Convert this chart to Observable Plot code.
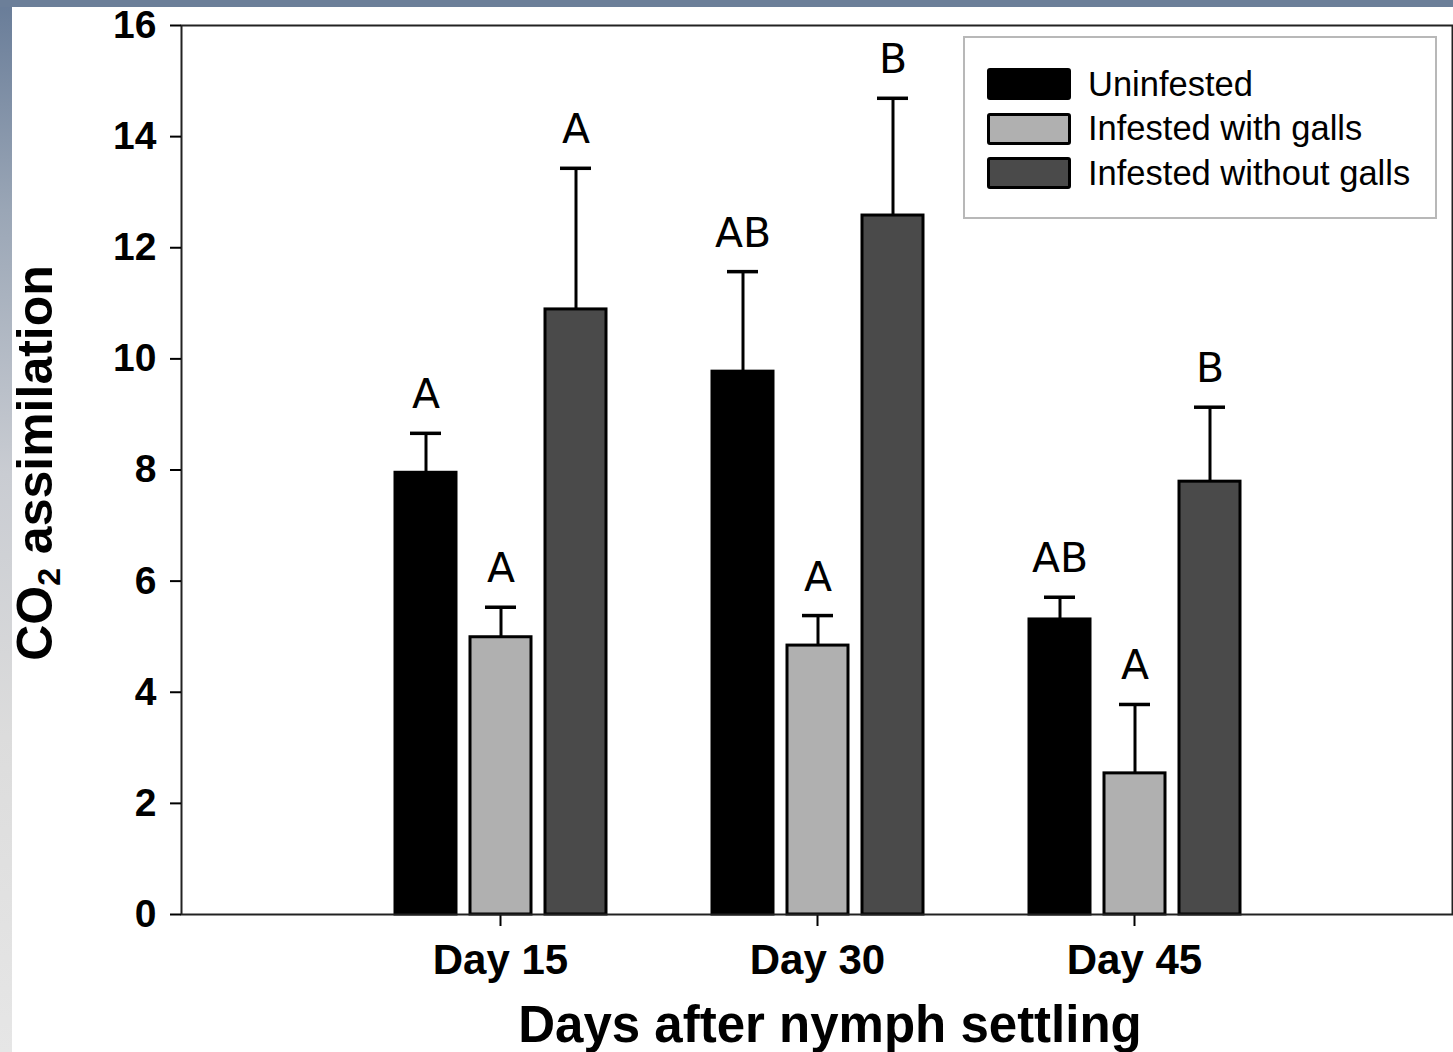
<!DOCTYPE html>
<html><head><meta charset="utf-8">
<script src="https://cdn.jsdelivr.net/npm/d3@7"></script>
<script src="https://cdn.jsdelivr.net/npm/@observablehq/plot@0.6"></script>
<style>
html,body{margin:0;padding:0;}
body{width:1453px;height:1052px;position:relative;overflow:hidden;background:linear-gradient(to bottom,#687c98 0%,#9aa6b6 20%,#c9ccd2 45%,#dcdcdc 70%,#e6e6e6 100%);}
#topstrip{position:absolute;left:0;top:0;width:1453px;height:7px;background:#6c7f99;}
#paper{position:absolute;left:12px;top:7px;width:1441px;height:1045px;background:#fff;}
#chart{position:absolute;left:0;top:0;width:1453px;height:1052px;}
#chart svg{position:absolute;left:0;top:0;}
#ylab{position:absolute;left:35px;top:463px;transform:translate(-50%,-50%) rotate(-90deg);font:bold 50px "Liberation Sans",Arial,sans-serif;white-space:nowrap;color:#000;}
#ylab sub{font-size:32px;vertical-align:-8px;line-height:0;}
#xlab{position:absolute;left:830px;top:1000px;transform:translateX(-50%);font:bold 51px "Liberation Sans",Arial,sans-serif;white-space:nowrap;color:#000;line-height:50px;}
#legend{position:absolute;left:963px;top:36px;width:470px;height:179px;border:2px solid #b8b8b8;background:#fff;font:34.5px "Liberation Sans",Arial,sans-serif;color:#000;}
.row{position:absolute;left:22px;height:30px;display:flex;align-items:center;}
.sw{width:78px;height:26px;border:3px solid #000;border-radius:3px;margin-right:17px;}
.lt{white-space:nowrap;}
</style>
</head><body>
<div id="topstrip"></div>
<div id="paper"></div>
<div id="chart"></div>
<script>
const days = ["Day 15", "Day 30", "Day 45"];
const groups = ["Uninfested", "Infested with galls", "Infested without galls"];
const groupColors = ["#000000", "#b0b0b0", "#4a4a4a"];
// means per day (Day 15, Day 30, Day 45)
const uninfestedMean = [7.95, 9.77, 5.31];
const gallsMean = [4.99, 4.84, 2.54];
const withoutGallsMean = [10.89, 12.58, 7.79];
// standard errors
const uninfestedSE = [0.71, 1.80, 0.40];
const gallsSE = [0.54, 0.54, 1.24];
const withoutGallsSE = [2.54, 2.11, 1.34];
// significance letters
const uninfestedLetters = ["A", "AB", "AB"];
const gallsLetters = ["A", "A", "A"];
const withoutGallsLetters = ["A", "B", "B"];
const yTicks = [0, 2, 4, 6, 8, 10, 12, 14, 16];
const yDomain = [0, 16];
const xTitle = "Days after nymph settling";

const series = [
  [uninfestedMean, uninfestedSE, uninfestedLetters],
  [gallsMean, gallsSE, gallsLetters],
  [withoutGallsMean, withoutGallsSE, withoutGallsLetters]
];
const data = [];
days.forEach((day, i) => {
  groups.forEach((g, j) => {
    const [m, se, l] = series[j];
    data.push({day, group: g, value: m[i], upper: m[i] + se[i], letter: l[i]});
  });
});

const dims = {width: 1453, height: 1052, marginLeft: 181, marginRight: 1, marginTop: 25, marginBottom: 138};
const baseStyle = {background: "transparent", fontFamily: "'Liberation Sans', Arial, sans-serif", color: "#000"};

// bars, grouped by day (faceted)
const bars = Plot.plot({
  ...dims,
  style: baseStyle,
  fx: {domain: days, paddingInner: 0.332, paddingOuter: 0.668, label: null},
  x: {domain: groups, paddingInner: 0.19, paddingOuter: 0, axis: null},
  y: {domain: yDomain, axis: null},
  color: {domain: groups, range: groupColors},
  marks: [
    Plot.barY(data, {fx: "day", x: "group", y: "value", fill: "group", stroke: "#000", strokeWidth: 3}),
    Plot.ruleX(data, {fx: "day", x: "group", y1: "value", y2: "upper", stroke: "#000", strokeWidth: 3}),
    Plot.tickY(data, {fx: "day", x: "group", y: "upper", stroke: "#000", strokeWidth: 3.5, insetLeft: 15, insetRight: 15}),
    Plot.text(data, {fx: "day", x: "group", y: "upper", text: "letter", dy: -25, lineAnchor: "bottom", fontSize: 41, fontFamily: "'DejaVu Sans', sans-serif", fill: "#000"}),
    Plot.axisFx({anchor: "bottom", tickSize: 12, tickPadding: 18, fontSize: 42, fontWeight: "bold", strokeWidth: 2, label: null})
  ]
});

// frame and value axis spanning the whole plot area
const axes = Plot.plot({
  ...dims,
  style: baseStyle,
  y: {domain: yDomain, label: null},
  marks: [
    Plot.frame({stroke: "#222", strokeWidth: 2}),
    Plot.axisY({ticks: yTicks, tickSize: 11, tickPadding: 14, fontSize: 39, fontWeight: "bold", strokeWidth: 2, label: null})
  ]
});

const holder = document.getElementById("chart");
holder.appendChild(bars);
holder.appendChild(axes);

// axis titles
const ylab = document.createElement("div");
ylab.id = "ylab";
ylab.innerHTML = "CO<sub>2</sub> assimilation";
document.body.appendChild(ylab);
const xlab = document.createElement("div");
xlab.id = "xlab";
xlab.textContent = xTitle;
document.body.appendChild(xlab);

// legend
const legend = document.createElement("div");
legend.id = "legend";
groups.forEach((g, j) => {
  const row = document.createElement("div");
  row.className = "row";
  row.style.top = (31 + j * 44.5) + "px";
  const sw = document.createElement("div");
  sw.className = "sw";
  sw.style.background = groupColors[j];
  const lt = document.createElement("span");
  lt.className = "lt";
  lt.textContent = g;
  row.appendChild(sw);
  row.appendChild(lt);
  legend.appendChild(row);
});
document.body.appendChild(legend);
</script>
</body></html>
